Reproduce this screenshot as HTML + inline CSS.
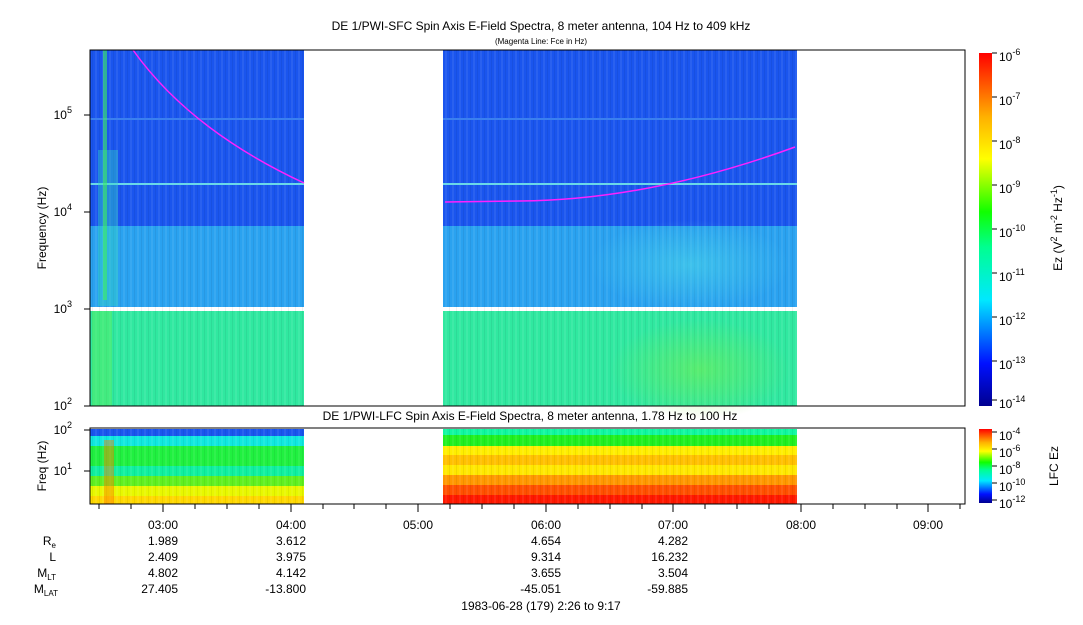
<!DOCTYPE html>
<html><head><style>
body{margin:0;background:#fff;}
svg text{font-family:"Liberation Sans",sans-serif;}
</style></head><body>
<svg width="1083" height="620" xmlns="http://www.w3.org/2000/svg">
<defs>
<linearGradient id="jet" x1="0" y1="1" x2="0" y2="0">
<stop offset="0" stop-color="#00008f"/>
<stop offset="0.12" stop-color="#0010ff"/>
<stop offset="0.3" stop-color="#00e8ff"/>
<stop offset="0.45" stop-color="#00ff90"/>
<stop offset="0.55" stop-color="#10ff00"/>
<stop offset="0.7" stop-color="#ffff00"/>
<stop offset="0.82" stop-color="#ffb000"/>
<stop offset="1" stop-color="#ff0000"/>
</linearGradient>
<pattern id="str" width="7" height="10" patternUnits="userSpaceOnUse">
<rect x="1" width="1" height="10" fill="#000" opacity="0.06"/>
<rect x="4" width="2" height="10" fill="#fff" opacity="0.07"/>
</pattern>
<radialGradient id="blob" cx="0.5" cy="0.5" r="0.5">
<stop offset="0" stop-color="#80f040" stop-opacity="0.5"/>
<stop offset="1" stop-color="#80f040" stop-opacity="0"/>
</radialGradient>
<radialGradient id="blob2" cx="0.5" cy="0.5" r="0.5">
<stop offset="0" stop-color="#50e0e8" stop-opacity="0.5"/>
<stop offset="1" stop-color="#50e0e8" stop-opacity="0"/>
</radialGradient>
</defs>
<text x="541" y="30" font-size="12" text-anchor="middle">DE 1/PWI-SFC  Spin Axis E-Field Spectra, 8 meter antenna, 104 Hz to 409 kHz</text>
<text x="541" y="44" font-size="8" text-anchor="middle">(Magenta Line: Fce in Hz)</text>

<g>
<rect x="90" y="50" width="214" height="176" fill="#1a55ee"/>
<rect x="90" y="226" width="214" height="81" fill="#2aa2f0"/>
<rect x="90" y="311" width="214" height="95" fill="#30e8a0"/>
<rect x="443" y="50" width="354" height="176" fill="#1a55ee"/>
<rect x="443" y="226" width="354" height="81" fill="#2aa2f0"/>
<rect x="443" y="311" width="354" height="95" fill="#30e8a0"/>
<rect x="90" y="50" width="214" height="356" fill="url(#str)"/>
<rect x="443" y="50" width="354" height="356" fill="url(#str)"/>
<rect x="90" y="183" width="214" height="2" fill="#6ad8e8"/>
<rect x="443" y="183" width="354" height="2" fill="#6ad8e8"/>
<rect x="90" y="118" width="214" height="2" fill="#3a80f0"/>
<rect x="443" y="118" width="354" height="2" fill="#3a80f0"/>
<rect x="98" y="150" width="20" height="156" fill="#30d8c0" opacity="0.4"/>
<rect x="103" y="50" width="4" height="250" fill="#40f060" opacity="0.6"/>
<rect x="92" y="311" width="20" height="95" fill="#60f050" opacity="0.4"/>
<ellipse cx="700" cy="370" rx="90" ry="50" fill="url(#blob)"/>
<ellipse cx="690" cy="265" rx="100" ry="45" fill="url(#blob2)"/>
</g>
<path d="M133,50 Q190,130 304,183" fill="none" stroke="#ff20ff" stroke-width="1.5"/>
<path d="M445,202 L520,201 Q650,200 795,147" fill="none" stroke="#ff20ff" stroke-width="1.5"/>
<rect x="90" y="50" width="875" height="356" fill="none" stroke="#000" stroke-width="1"/>

<g font-size="12">
<text x="72" y="410" text-anchor="end">10<tspan dy="-6" font-size="9">2</tspan></text>
<text x="72" y="313" text-anchor="end">10<tspan dy="-6" font-size="9">3</tspan></text>
<text x="72" y="216" text-anchor="end">10<tspan dy="-6" font-size="9">4</tspan></text>
<text x="72" y="119" text-anchor="end">10<tspan dy="-6" font-size="9">5</tspan></text>
<text transform="translate(46,228) rotate(-90)" text-anchor="middle">Frequency (Hz)</text>
</g>
<g stroke="#000">
<line x1="84" y1="406" x2="90" y2="406"/><line x1="84" y1="309" x2="90" y2="309"/>
<line x1="84" y1="212" x2="90" y2="212"/><line x1="84" y1="115" x2="90" y2="115"/>
</g>

<text x="530" y="420" font-size="12" text-anchor="middle">DE 1/PWI-LFC  Spin Axis E-Field Spectra, 8 meter antenna, 1.78 Hz to 100 Hz</text>

<g>
<rect x="90" y="429" width="214" height="7" fill="#1a55ee"/>
<rect x="90" y="436" width="214" height="10" fill="#10e8e0"/>
<rect x="90" y="446" width="214" height="20" fill="#20f040"/>
<rect x="90" y="466" width="214" height="10" fill="#10f0a0"/>
<rect x="90" y="476" width="214" height="10" fill="#60f020"/>
<rect x="90" y="486" width="214" height="10" fill="#e8f800"/>
<rect x="90" y="496" width="214" height="8" fill="#ffd800"/>
<rect x="443" y="429" width="354" height="6" fill="#10f8a0"/>
<rect x="443" y="435" width="354" height="11" fill="#20f020"/>
<rect x="443" y="446" width="354" height="9" fill="#ffee00"/>
<rect x="443" y="455" width="354" height="10" fill="#ffc000"/>
<rect x="443" y="465" width="354" height="10" fill="#ffe800"/>
<rect x="443" y="475" width="354" height="10" fill="#ff9800"/>
<rect x="443" y="485" width="354" height="10" fill="#ff5000"/>
<rect x="443" y="495" width="354" height="9" fill="#ff1800"/>
<rect x="90" y="429" width="214" height="75" fill="url(#str)"/>
<rect x="443" y="429" width="354" height="75" fill="url(#str)"/>
<rect x="104" y="440" width="10" height="64" fill="#ff8000" opacity="0.45"/>
</g>
<rect x="90" y="428" width="875" height="76" fill="none" stroke="#000"/>
<g font-size="12">
<text x="72" y="434" text-anchor="end">10<tspan dy="-6" font-size="9">2</tspan></text>
<text x="72" y="475" text-anchor="end">10<tspan dy="-6" font-size="9">1</tspan></text>
<text transform="translate(46,466) rotate(-90)" text-anchor="middle">Freq (Hz)</text>
</g>
<g stroke="#000"><line x1="84" y1="430" x2="90" y2="430"/><line x1="84" y1="471" x2="90" y2="471"/></g>

<g stroke="#000">
<line x1="99" y1="504" x2="99" y2="509"/><line x1="131" y1="504" x2="131" y2="509"/>
<line x1="163" y1="504" x2="163" y2="512"/><line x1="195" y1="504" x2="195" y2="509"/>
<line x1="227" y1="504" x2="227" y2="509"/><line x1="259" y1="504" x2="259" y2="509"/>
<line x1="291" y1="504" x2="291" y2="512"/><line x1="323" y1="504" x2="323" y2="509"/>
<line x1="354" y1="504" x2="354" y2="509"/><line x1="386" y1="504" x2="386" y2="509"/>
<line x1="418" y1="504" x2="418" y2="512"/><line x1="450" y1="504" x2="450" y2="509"/>
<line x1="482" y1="504" x2="482" y2="509"/><line x1="514" y1="504" x2="514" y2="509"/>
<line x1="546" y1="504" x2="546" y2="512"/><line x1="578" y1="504" x2="578" y2="509"/>
<line x1="610" y1="504" x2="610" y2="509"/><line x1="642" y1="504" x2="642" y2="509"/>
<line x1="673" y1="504" x2="673" y2="512"/><line x1="705" y1="504" x2="705" y2="509"/>
<line x1="737" y1="504" x2="737" y2="509"/><line x1="769" y1="504" x2="769" y2="509"/>
<line x1="801" y1="504" x2="801" y2="512"/><line x1="833" y1="504" x2="833" y2="509"/>
<line x1="865" y1="504" x2="865" y2="509"/><line x1="897" y1="504" x2="897" y2="509"/>
<line x1="928" y1="504" x2="928" y2="512"/><line x1="960" y1="504" x2="960" y2="509"/>
</g>
<g font-size="12" text-anchor="end">
<text x="178" y="529">03:00</text><text x="306" y="529">04:00</text><text x="433" y="529">05:00</text>
<text x="561" y="529">06:00</text><text x="688" y="529">07:00</text><text x="816" y="529">08:00</text><text x="943" y="529">09:00</text>
<text x="178" y="545">1.989</text><text x="306" y="545">3.612</text><text x="561" y="545">4.654</text><text x="688" y="545">4.282</text>
<text x="178" y="561">2.409</text><text x="306" y="561">3.975</text><text x="561" y="561">9.314</text><text x="688" y="561">16.232</text>
<text x="178" y="577">4.802</text><text x="306" y="577">4.142</text><text x="561" y="577">3.655</text><text x="688" y="577">3.504</text>
<text x="178" y="593">27.405</text><text x="306" y="593">-13.800</text><text x="561" y="593">-45.051</text><text x="688" y="593">-59.885</text>
<text x="56" y="545">R<tspan font-size="8" dy="3">e</tspan></text>
<text x="56" y="561">L</text>
<text x="56" y="577">M<tspan font-size="8" dy="3">LT</tspan></text>
<text x="58" y="593">M<tspan font-size="8" dy="3">LAT</tspan></text>
</g>
<text x="541" y="610" font-size="12" text-anchor="middle">1983-06-28 (179) 2:26 to 9:17</text>

<rect x="979" y="53" width="13" height="353" fill="url(#jet)"/>
<rect x="979" y="429" width="13" height="74" fill="url(#jet)"/>
<g stroke="#000">
<line x1="992" y1="53" x2="997" y2="53"/><line x1="992" y1="97" x2="997" y2="97"/>
<line x1="992" y1="141" x2="997" y2="141"/><line x1="992" y1="185" x2="997" y2="185"/>
<line x1="992" y1="229" x2="997" y2="229"/><line x1="992" y1="273" x2="997" y2="273"/>
<line x1="992" y1="317" x2="997" y2="317"/><line x1="992" y1="361" x2="997" y2="361"/>
<line x1="992" y1="400" x2="997" y2="400"/>
<line x1="992" y1="432" x2="997" y2="432"/><line x1="992" y1="449" x2="997" y2="449"/>
<line x1="992" y1="466" x2="997" y2="466"/><line x1="992" y1="483" x2="997" y2="483"/>
<line x1="992" y1="500" x2="997" y2="500"/>
</g>
<g font-size="12">
<text x="999" y="61">10<tspan dy="-6" font-size="9">-6</tspan></text>
<text x="999" y="105">10<tspan dy="-6" font-size="9">-7</tspan></text>
<text x="999" y="149">10<tspan dy="-6" font-size="9">-8</tspan></text>
<text x="999" y="193">10<tspan dy="-6" font-size="9">-9</tspan></text>
<text x="999" y="237">10<tspan dy="-6" font-size="9">-10</tspan></text>
<text x="999" y="281">10<tspan dy="-6" font-size="9">-11</tspan></text>
<text x="999" y="325">10<tspan dy="-6" font-size="9">-12</tspan></text>
<text x="999" y="369">10<tspan dy="-6" font-size="9">-13</tspan></text>
<text x="999" y="408">10<tspan dy="-6" font-size="9">-14</tspan></text>
<text x="999" y="440">10<tspan dy="-6" font-size="9">-4</tspan></text>
<text x="999" y="457">10<tspan dy="-6" font-size="9">-6</tspan></text>
<text x="999" y="474">10<tspan dy="-6" font-size="9">-8</tspan></text>
<text x="999" y="491">10<tspan dy="-6" font-size="9">-10</tspan></text>
<text x="999" y="508">10<tspan dy="-6" font-size="9">-12</tspan></text>
<text transform="translate(1062,228) rotate(-90)" text-anchor="middle">Ez (V<tspan dy="-5" font-size="9">2</tspan><tspan dy="5"> m</tspan><tspan dy="-5" font-size="9">-2</tspan><tspan dy="5"> Hz</tspan><tspan dy="-5" font-size="9">-1</tspan><tspan dy="5">)</tspan></text>
<text transform="translate(1058,466) rotate(-90)" text-anchor="middle">LFC Ez</text>
</g>
</svg>
</body></html>
